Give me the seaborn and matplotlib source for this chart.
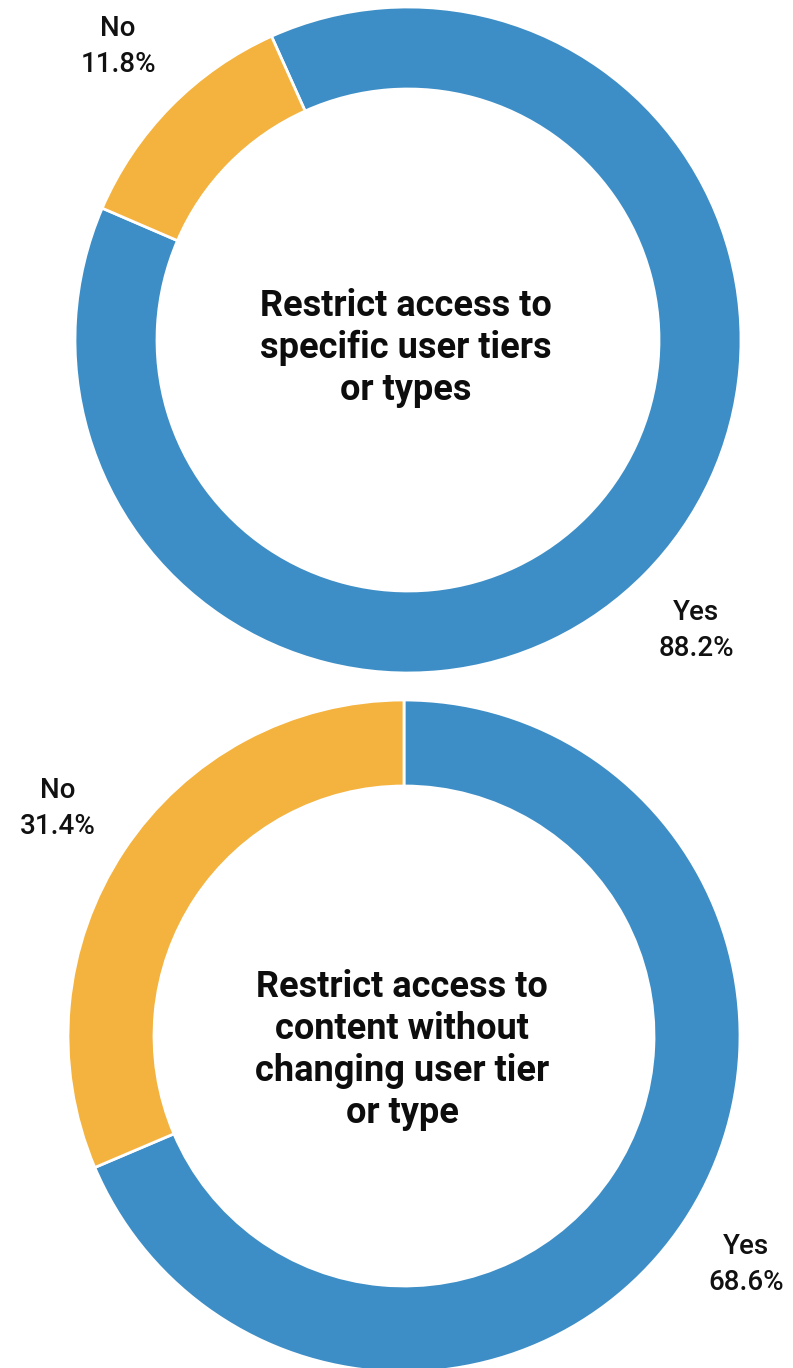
import matplotlib
matplotlib.use("Agg")
import matplotlib.pyplot as plt
import seaborn as sns

# Survey answers for the two questions
categories = ["Yes", "No"]
top_values = [88.2, 11.8]
bottom_values = [68.6, 31.4]
top_title = ["Restrict access to", "specific user tiers", "or types"]
bottom_title = ["Restrict access to", "content without", "changing user tier", "or type"]

sns.set_theme(style="white")
palette = ["#3D8EC6", "#F4B23F"]

W, H = 793, 1368
fig = plt.figure(figsize=(W / 100, H / 100), dpi=100)
ax = fig.add_axes([0, 0, 1, 1])

label_font = ["Roboto", "DejaVu Sans"]
title_font = ["Roboto", "DejaVu Sans"]


def donut(values, center, r_out, r_in, start, title, title_y, label_pos):
    ax.pie(
        values,
        colors=palette,
        startangle=start,
        counterclock=False,
        radius=r_out,
        center=center,
        wedgeprops=dict(width=r_out - r_in, edgecolor="white", linewidth=2),
    )
    # centre caption, one line at a time
    step = 42
    n = len(title)
    for i, line in enumerate(title):
        y = title_y + (n - 1) / 2 * step - i * step
        ax.text(center[0] - 2, y, line, ha="center", va="center",
                fontsize=26, fontweight="bold", color="#0d0d0d",
                family=title_font)
    # category / share labels outside the ring
    for cat, v, (lx, ly) in zip(categories, values, label_pos):
        ax.text(lx, ly + 18, cat, ha="center", va="center", fontsize=20,
                fontweight="medium", color="#111111", family=label_font)
        ax.text(lx, ly - 18, f"{v:.1f}%", ha="center", va="center",
                fontsize=20, fontweight="medium", color="#111111",
                family=label_font)


donut(top_values, center=(408, H - 340), r_out=333, r_in=251, start=114.2,
      title=top_title, title_y=H - 348,
      label_pos=[(696, H - 630), (118, H - 47)])
donut(bottom_values, center=(404, H - 1036), r_out=336, r_in=250, start=90,
      title=bottom_title, title_y=H - 1050,
      label_pos=[(746, H - 1264), (58, H - 808)])

ax.set_xlim(0, W)
ax.set_ylim(0, H)
ax.set_aspect("equal")
ax.axis("off")
fig.savefig("out.png", dpi=100, facecolor="white")
